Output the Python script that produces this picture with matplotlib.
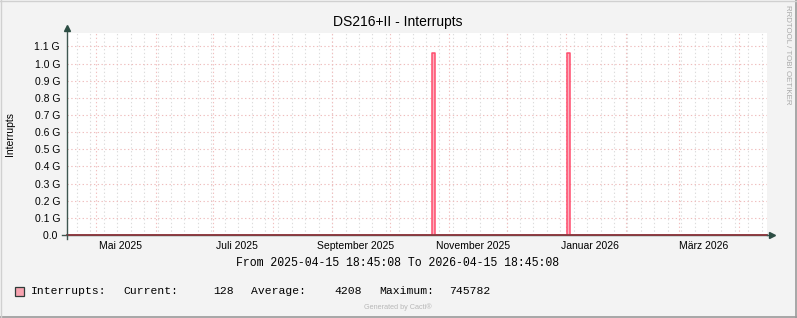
import numpy as np
import pandas as pd
import matplotlib
matplotlib.use("Agg")
import matplotlib.pyplot as plt
from matplotlib.patches import Rectangle

# data (step samples: value holds until next time)
times = ["2025-04-15 18:45:08", "2025-10-23 02:00:00", "2025-10-24 14:00:00",
         "2026-01-01 08:00:00", "2026-01-02 20:00:00", "2026-04-15 18:45:08"]
values = [4208, 1.06e9, 4208, 1.06e9, 4208, 128]

start = pd.Timestamp("2025-04-15 18:45:08")
end = pd.Timestamp("2026-04-15 18:45:08")

y_ticks = [0.0, 0.1e9, 0.2e9, 0.3e9, 0.4e9, 0.5e9, 0.6e9, 0.7e9, 0.8e9, 0.9e9, 1.0e9, 1.1e9]
y_labels = ["0.0 ", "0.1 G", "0.2 G", "0.3 G", "0.4 G", "0.5 G", "0.6 G",
            "0.7 G", "0.8 G", "0.9 G", "1.0 G", "1.1 G"]
x_label_months = ["2025-05-01", "2025-07-01", "2025-09-01", "2025-11-01", "2026-01-01", "2026-03-01"]
x_labels = ["Mai 2025", "Juli 2025", "September 2025", "November 2025", "Januar 2026", "März 2026"]

legend_name = "Interrupts:"
cur, avg, mx = "128", "4208", "745782"

W, H = 797, 318
fig = plt.figure(figsize=(W / 100, H / 100), dpi=100, facecolor="#F3F3F3")

# canvas 700x202 px, left edge x=67, bottom y=235
ax = fig.add_axes([67 / W, (H - 235) / H, 700 / W, 202 / H])
ax.set_facecolor("white")
for s in ax.spines.values():
    s.set_visible(False)

t = pd.to_datetime(times, format="ISO8601")
ax.set_xlim(start, end)
ax.set_ylim(0, 1.178e9)

# grid
weeks = pd.date_range("2025-04-21", end, freq="7D")
months = pd.date_range("2025-05-01", end, freq="MS")
for w in weeks:
    ax.axvline(w, color="#DCDCDC", lw=0.8, ls=(0, (1.2, 2.2)), zorder=1)
for m in months:
    ax.axvline(m, color="#F1BFBF", lw=0.8, ls=(0, (1.2, 2.2)), zorder=1.1)
for yv in y_ticks[1:]:
    ax.axhline(yv, color="#EFBDBD", lw=0.8, ls=(0, (1.2, 2.2)), zorder=1.1)

# data
ax.fill_between(t, values, step="post", color="#FCB0BF", lw=0, zorder=2)
ax.step(t, values, where="post", color="#FF4D6D", lw=1.1, zorder=3)

# axes lines + arrows
axis_col = "#3E5650"
ax.plot([-5 / 700, 1.0], [0, 0], transform=ax.transAxes, color=axis_col,
        lw=1.0, clip_on=False, zorder=4)
ax.plot([0, 1.0], [0, 0], transform=ax.transAxes, color="#8B3A3F",
        lw=1.3, clip_on=False, zorder=5)
ax.plot([0, 0], [-4 / 202, 1.015], transform=ax.transAxes, color=axis_col,
        lw=1.0, clip_on=False, zorder=5)
ax.plot([1.0, 1.006], [0, 0], transform=ax.transAxes, color=axis_col,
        lw=1.0, clip_on=False, zorder=5)
ax.plot([1.007], [0], marker=">", ms=4.5, color="#2C4D43", transform=ax.transAxes,
        clip_on=False, zorder=6)
ax.plot([0], [1.025], marker="^", ms=4.5, color="#2C4D43", transform=ax.transAxes,
        clip_on=False, zorder=6)

# ticks
font = "Liberation Sans"
ax.set_yticks(y_ticks)
ax.set_yticklabels(y_labels, fontsize=7.5, family=font)
ax.tick_params(axis="y", length=0, pad=5)
label_pos = [pd.Timestamp(m) + pd.Timedelta(days=12.5) for m in x_label_months]
ax.set_xticks(label_pos)
ax.set_xticklabels(x_labels, fontsize=7.5, family=font)
ax.tick_params(axis="x", length=0, pad=4)

fig.text(10 / W, 1 - 134 / H, "Interrupts", rotation=90, ha="center", va="center",
         fontsize=7.5, family=font)

# texts
fig.text(398 / W, 1 - 22 / H, "DS216+II - Interrupts", ha="center", va="center",
         fontsize=10, family=font)
mono = "Liberation Mono"
fig.text(398 / W, 1 - 263 / H, "From 2025-04-15 18:45:08 To 2026-04-15 18:45:08",
         ha="center", va="center", fontsize=8.3, family=mono)

fig.patches.append(Rectangle((15 / W, 1 - 296 / H), 9 / W, 9 / H, transform=fig.transFigure,
                             facecolor="#F7A3B0", edgecolor="#2E3B38", lw=0.9))
ly = 1 - 291.5 / H
fig.text(31 / W, ly, legend_name, ha="left", va="center", fontsize=8.2, family=mono)
fig.text(123 / W, ly, "Current:", ha="left", va="center", fontsize=8.2, family=mono)
fig.text(234 / W, ly, cur, ha="right", va="center", fontsize=8.2, family=mono)
fig.text(251 / W, ly, "Average:", ha="left", va="center", fontsize=8.2, family=mono)
fig.text(362 / W, ly, avg, ha="right", va="center", fontsize=8.2, family=mono)
fig.text(379 / W, ly, "Maximum:", ha="left", va="center", fontsize=8.2, family=mono)
fig.text(490 / W, ly, mx, ha="right", va="center", fontsize=8.2, family=mono)

fig.text(398 / W, 1 - 307 / H, "Generated by Cacti®", ha="center", va="center",
         fontsize=5.2, family=font, color="#B8B8B8")
fig.text(788 / W, 1 - 55 / H, "RRDTOOL / TOBI OETIKER", ha="center", va="center",
         rotation=-90, fontsize=5.7, family=font, color="#AAAAAA")

# frame shading
fig.add_artist(plt.Line2D([1 - 1 / W, 1 - 1 / W], [0, 1], transform=fig.transFigure,
                          color="#9A9A9A", lw=1.2))
fig.add_artist(plt.Line2D([0, 1], [1 / H, 1 / H], transform=fig.transFigure,
                          color="#9A9A9A", lw=1.2))
fig.add_artist(plt.Line2D([0.5 / W, 0.5 / W], [0, 1], transform=fig.transFigure,
                          color="#D0D0D0", lw=1))
fig.add_artist(plt.Line2D([0, 1], [1 - 0.5 / H, 1 - 0.5 / H], transform=fig.transFigure,
                          color="#D0D0D0", lw=1))

fig.savefig("out.png", dpi=100, facecolor=fig.get_facecolor())
